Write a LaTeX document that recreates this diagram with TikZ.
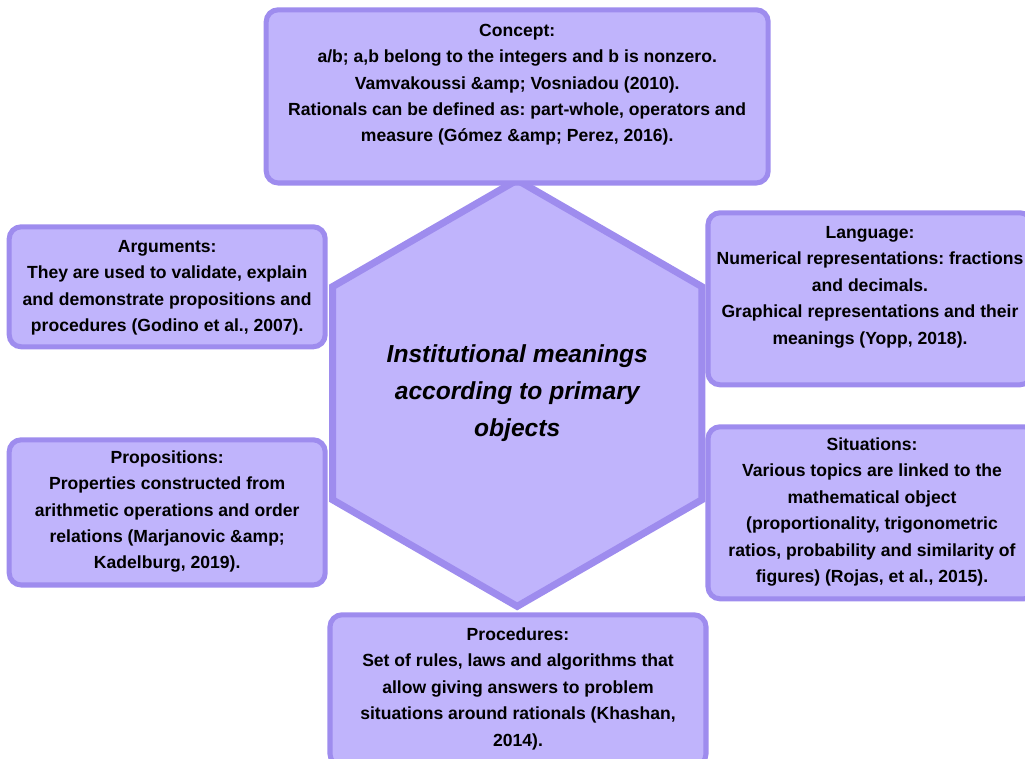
\documentclass[tikz,border=0pt]{standalone}
\usepackage{fontspec}
\setmainfont{Liberation Sans}
\usepackage{xcolor}
\usetikzlibrary{shapes.geometric}
\definecolor{IMFill}{HTML}{C0B4FC}
\definecolor{IMLine}{HTML}{9E8CEE}

\tikzset{
  cardbox/.style={draw=IMLine,fill=IMFill,line width=3.6pt,rounded corners=0.3cm,inner sep=0pt},
  cardtext/.style={align=center,inner sep=0pt,font=\fontsize{12.5}{18.8}\selectfont\bfseries\frenchspacing},
  hexnode/.style={draw=IMLine,fill=IMFill,line width=5pt,regular polygon,regular polygon sides=6,
    shape border rotate=30,minimum size=10.5cm,inner sep=0pt,align=center,
    font=\fontsize{17.5}{26.3}\selectfont\bfseries\itshape}
}

\begin{document}
\begin{tikzpicture}[x=1cm,y=1cm]
\path[use as bounding box] (0,0) rectangle (25.625,18.95);
% centre
\node[hexnode] (meanings) at (12.93,9.12) {Institutional meanings\\according to primary\\objects};
% primary objects
\node[cardbox,minimum width=12.55cm,minimum height=4.33cm] (conceptbox) at (12.93,16.54) {};
\node[cardtext] (concept) at (12.93,16.83) {Concept:\\a/b; a,b belong to the integers and b is nonzero.\\Vamvakoussi \&amp; Vosniadou (2010).\\Rationals can be defined as: part-whole, operators and\\measure (Gómez \&amp; Perez, 2016).};
\node[cardbox,minimum width=7.90cm,minimum height=3.00cm] (argumentsbox) at (4.18,11.78) {};
\node[cardtext] (arguments) at (4.18,11.76) {Arguments:\\They are used to validate, explain\\and demonstrate propositions and\\procedures (Godino et al., 2007).};
\node[cardbox,minimum width=7.90cm,minimum height=3.63cm] (propositionsbox) at (4.18,6.14) {};
\node[cardtext] (propositions) at (4.18,6.16) {Propositions:\\Properties constructed from\\arithmetic operations and order\\relations (Marjanovic \&amp;\\Kadelburg, 2019).};
\node[cardbox,minimum width=8.10cm,minimum height=4.30cm] (languagebox) at (21.75,11.48) {};
\node[cardtext] (language) at (21.75,11.77) {Language:\\Numerical representations: fractions\\and decimals.\\Graphical representations and their\\meanings (Yopp, 2018).};
\node[cardbox,minimum width=8.20cm,minimum height=4.30cm] (situationsbox) at (21.80,6.13) {};
\node[cardtext] (situations) at (21.80,6.15) {Situations:\\Various topics are linked to the\\mathematical object\\(proportionality, trigonometric\\ratios, probability and similarity of\\figures) (Rojas, et al., 2015).};
\node[cardbox,minimum width=9.40cm,minimum height=3.78cm] (proceduresbox) at (12.95,1.69) {};
\node[cardtext] (procedures) at (12.95,1.73) {Procedures:\\Set of rules, laws and algorithms that\\allow giving answers to problem\\situations around rationals (Khashan,\\2014).};
\end{tikzpicture}
\end{document}
